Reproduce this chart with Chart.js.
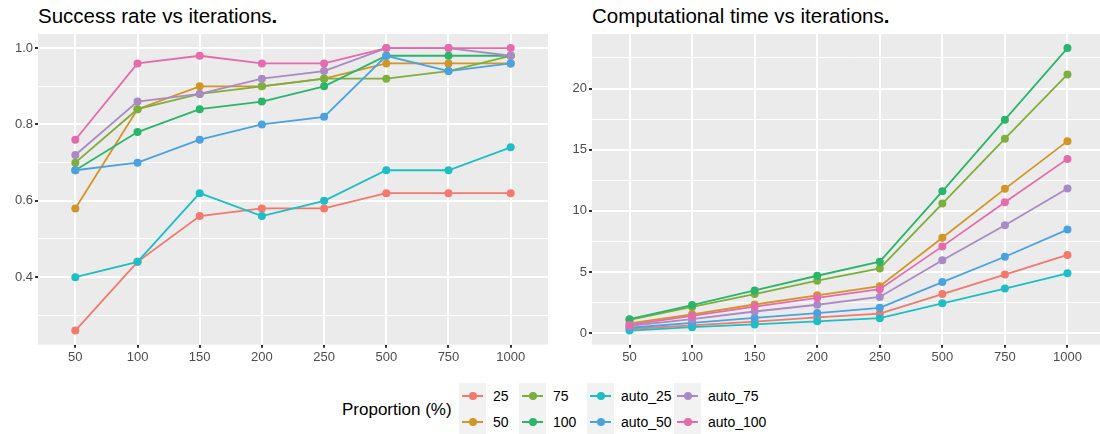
<!DOCTYPE html>
<html>
<head>
<meta charset="utf-8">
<script src="https://cdn.jsdelivr.net/npm/chart.js@4.4.1/dist/chart.umd.min.js"></script>
<style>
  html, body { margin: 0; padding: 0; background: #fff; }
  body { width: 1100px; height: 434px; overflow: hidden; position: relative; font-family: "Liberation Sans", Arial, sans-serif; }
  canvas { position: absolute; top: 0; }
  .title { position: absolute; top: 4px; font-size: 20.5px; line-height: 24px; color: #000; white-space: nowrap; }
  .legend-title { position: absolute; left: 342px; top: 400px; font-size: 17px; line-height: 20px; white-space: nowrap; }
  .key { position: absolute; width: 27px; height: 26px; background: #F2F2F2; }
  .key .ln { position: absolute; left: 3px; top: 12px; width: 21px; height: 2px; }
  .key .pt { position: absolute; left: 9.5px; top: 9px; width: 8px; height: 8px; border-radius: 50%; }
  .lab { position: absolute; font-size: 14px; line-height: 26px; white-space: nowrap; }
</style>
</head>
<body>
<div class="title" style="left:38px">Success rate vs iterations<b>.</b></div>
<div class="title" style="left:592px">Computational time vs iterations<b>.</b></div>
<canvas id="successChart" width="552" height="372" style="left:0"></canvas>
<canvas id="timeChart" width="557" height="372" style="left:552px"></canvas>
<div class="legend-title">Proportion (%)</div>
<div id="legend"></div>

<script>
const iterations = ['50', '100', '150', '200', '250', '500', '750', '1000'];
const proportions = ['25', '50', '75', '100', 'auto_25', 'auto_50', 'auto_75', 'auto_100'];
const colors = ['#F3786D', '#D29628', '#7DAF3C', '#2BB56A', '#1DBEC4', '#4AA3E0', '#A98AC4', '#E56BAD'];

// success rate
const success25 = [0.26, 0.44, 0.56, 0.58, 0.58, 0.62, 0.62, 0.62];
const success50 = [0.58, 0.84, 0.90, 0.90, 0.92, 0.96, 0.96, 0.96];
const success75 = [0.70, 0.84, 0.88, 0.90, 0.92, 0.92, 0.94, 0.98];
const success100 = [0.68, 0.78, 0.84, 0.86, 0.90, 0.98, 0.98, 0.98];
const successAuto25 = [0.40, 0.44, 0.62, 0.56, 0.60, 0.68, 0.68, 0.74];
const successAuto50 = [0.68, 0.70, 0.76, 0.80, 0.82, 0.98, 0.94, 0.96];
const successAuto75 = [0.72, 0.86, 0.88, 0.92, 0.94, 1.00, 1.00, 0.98];
const successAuto100 = [0.76, 0.96, 0.98, 0.96, 0.96, 1.00, 1.00, 1.00];

// computational time
const time25 = [0.35, 0.65, 0.95, 1.3, 1.6, 3.2, 4.8, 6.4];
const time50 = [0.8, 1.55, 2.35, 3.1, 3.85, 7.8, 11.8, 15.7];
const time75 = [1.1, 2.15, 3.2, 4.3, 5.3, 10.6, 15.9, 21.15];
const time100 = [1.15, 2.3, 3.5, 4.7, 5.85, 11.6, 17.45, 23.3];
const timeAuto25 = [0.22, 0.5, 0.72, 0.98, 1.23, 2.45, 3.65, 4.9];
const timeAuto50 = [0.45, 0.85, 1.25, 1.65, 2.08, 4.18, 6.25, 8.47];
const timeAuto75 = [0.6, 1.15, 1.78, 2.33, 2.97, 5.97, 8.83, 11.83];
const timeAuto100 = [0.68, 1.42, 2.18, 2.9, 3.6, 7.1, 10.7, 14.25];

const successMajor = [0.4, 0.6, 0.8, 1.0];
const successMinor = [0.3, 0.5, 0.7, 0.9];
const timeMajor = [0, 5, 10, 15, 20];
const timeMinor = [2.5, 7.5, 12.5, 17.5, 22.5];

const successSeries = [success25, success50, success75, success100, successAuto25, successAuto50, successAuto75, successAuto100];
const timeSeries = [time25, time50, time75, time100, timeAuto25, timeAuto50, timeAuto75, timeAuto100];

const FONT = '"Liberation Sans", Arial, sans-serif';

const panelBg = {
  id: 'panelBg',
  beforeDraw(chart) {
    const { ctx, chartArea: a } = chart;
    ctx.save();
    ctx.fillStyle = '#EBEBEB';
    ctx.fillRect(a.left, a.top, a.right - a.left, a.bottom - a.top);
    ctx.restore();
  },
};

// ggplot style: 5% expansion on continuous y, 0.6 on discrete x
function expand(series) {
  const all = series.flat();
  const lo = Math.min(...all), hi = Math.max(...all);
  const pad = (hi - lo) * 0.05;
  return [lo - pad, hi + pad];
}

function makeChart(id, series, major, minor, yWidth, fmt) {
  const [yMin, yMax] = expand(series);
  const yTicks = major.concat(minor).sort((a, b) => a - b);
  const isMajor = v => major.some(m => Math.abs(m - v) < 1e-9);

  return new Chart(document.getElementById(id), {
    type: 'line',
    data: {
      datasets: series.map((vals, i) => ({
        label: proportions[i],
        data: vals.map((v, j) => ({ x: j, y: v })),
        borderColor: colors[i],
        backgroundColor: colors[i],
        borderWidth: 1.8,
        pointRadius: 4,
        pointBorderWidth: 0,
        pointHoverRadius: 4,
        tension: 0,
        order: series.length - i,
      })),
    },
    options: {
      responsive: false,
      animation: false,
      events: [],
      layout: { padding: { top: 34, right: 0, bottom: 0, left: 0 } },
      plugins: { legend: { display: false }, tooltip: { enabled: false } },
      scales: {
        x: {
          type: 'linear',
          min: -0.6,
          max: iterations.length - 0.4,
          afterBuildTicks: s => { s.ticks = iterations.map((_, i) => ({ value: i })); },
          afterFit: s => { s.height = 27.3; },
          ticks: {
            callback: v => iterations[v],
            autoSkip: false,
            maxRotation: 0,
            color: '#4D4D4D',
            font: { size: 13, family: FONT },
            padding: 2,
          },
          grid: { color: '#FFFFFF', lineWidth: 2, tickLength: 3, tickColor: '#333333' },
          border: { display: false },
        },
        y: {
          type: 'linear',
          min: yMin,
          max: yMax,
          afterBuildTicks: s => { s.ticks = yTicks.map(v => ({ value: v })); },
          afterFit: s => { s.width = yWidth; },
          ticks: {
            callback: v => (isMajor(v) ? fmt(v) : ''),
            autoSkip: false,
            color: '#4D4D4D',
            font: { size: 13, family: FONT },
            padding: 2,
          },
          grid: {
            color: '#FFFFFF',
            lineWidth: c => (c.tick && isMajor(c.tick.value) ? 2 : 1),
            tickLength: 3,
            tickColor: c => (c.tick && isMajor(c.tick.value) ? '#333333' : 'rgba(0,0,0,0)'),
          },
          border: { display: false },
        },
      },
    },
    plugins: [panelBg],
  });
}

makeChart('successChart', successSeries, successMajor, successMinor, 38, v => v.toFixed(1));
makeChart('timeChart', timeSeries, timeMajor, timeMinor, 40, v => String(v));

// legend, 2 rows x 4 columns, filled by column
const keyLefts = [459, 519, 587, 674];
const rowTops = [383, 409];
const legend = document.getElementById('legend');
proportions.forEach((name, i) => {
  const col = Math.floor(i / 2), row = i % 2;
  const key = document.createElement('div');
  key.className = 'key';
  key.style.left = keyLefts[col] + 'px';
  key.style.top = rowTops[row] + 'px';
  key.innerHTML = `<div class="ln" style="background:${colors[i]}"></div><div class="pt" style="background:${colors[i]}"></div>`;
  legend.appendChild(key);
  const lab = document.createElement('div');
  lab.className = 'lab';
  lab.style.left = (keyLefts[col] + 34) + 'px';
  lab.style.top = rowTops[row] + 'px';
  lab.textContent = name;
  legend.appendChild(lab);
});
</script>
</body>
</html>
